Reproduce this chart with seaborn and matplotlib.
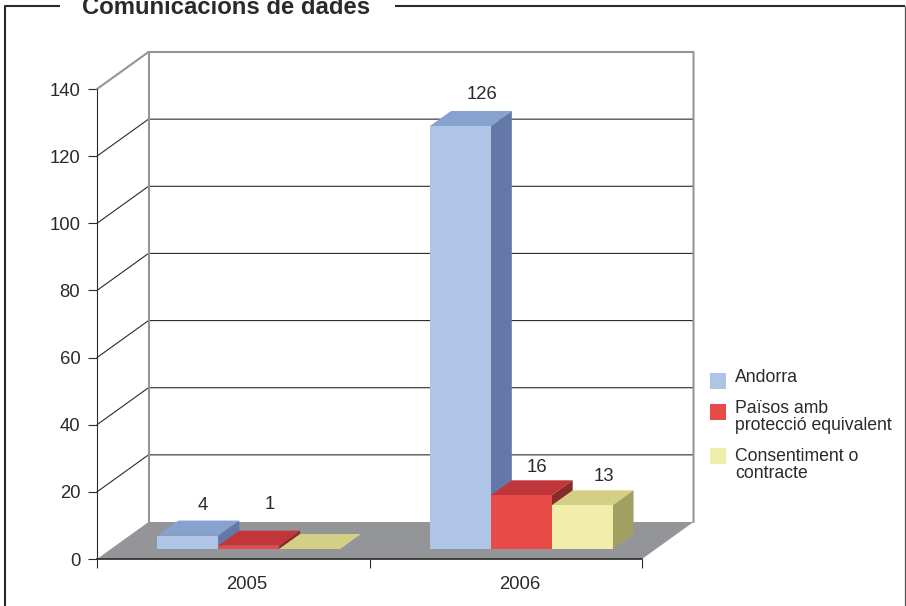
import matplotlib
matplotlib.use('Agg')
import matplotlib.pyplot as plt
from matplotlib.patches import Polygon
import pandas as pd
import seaborn as sns

# data
years = ['2005', '2006']
andorra = [4, 126]
paisos = [1, 16]
consentiment = [0, 13]
series_names = ['Andorra', 'Països amb\nprotecció equivalent', 'Consentiment o\ncontracte']
y_ticks = [0, 20, 40, 60, 80, 100, 120, 140]

front = ['#AFC5E6', '#E84B47', '#F1EEAB']
tops = ['#88A2CF', '#C0363B', '#D3D085']
sides = ['#6378A8', '#8A2A2B', '#A0A063']
grey = '#949598'
dark = '#2B2A29'

W, H = 906, 606
sns.set_style('white')
plt.rcParams['font.family'] = ['Liberation Sans', 'DejaVu Sans']

df = pd.DataFrame({'year': years * 3,
                   'serie': [n for n in series_names for _ in years],
                   'valor': andorra + paisos + consentiment})

fig = plt.figure(figsize=(W / 100, H / 100), dpi=100)

# frame and title on a pixel axes behind the chart
bg = fig.add_axes([0, 0, 1, 1], zorder=0)
bg.set_xlim(0, W)
bg.set_ylim(H, 0)
bg.axis('off')
bg.plot([60, 5, 5], [6, 6, H], color=dark, lw=1.5, solid_capstyle='butt')
bg.plot([395, 905], [6, 6], color=dark, lw=1.5, solid_capstyle='butt')
bg.plot([905, 905], [6, H], color='#555555', lw=0.9, solid_capstyle='butt')
bg.text(226.5, 14, 'Comunicacions de dades', fontsize=17.2, fontweight='bold',
        color=dark, ha='center', va='baseline')

# front plane of the 3d box: x 97-642, y 559-89 px
ax = fig.add_axes([97 / W, 1 - 559 / H, 545 / W, 470 / H], zorder=1)
ax.patch.set_alpha(0)
sns.barplot(data=df, x='year', y='valor', hue='serie', hue_order=series_names,
            palette=front, width=0.67, gap=0, saturation=1, legend=False, ax=ax,
            errorbar=None)
ax.set_xlim(-0.5, 1.5)
ax.set_ylim(0, 140)
ax.set_xlabel('')
ax.set_ylabel('')

# depth of the box and of one bar, in data units
px_x = 2 / 545
px_y = 140 / 470
box_dx, box_dy = 51.5 * px_x, 37 * px_y
bar_dx, bar_dy = 21 * px_x, 15 * px_y
shift_x, shift_y = 15.5 * px_x, 10 * px_y

# walls and floor
ax.add_patch(Polygon([(-0.5, 0), (1.5, 0), (1.5 + box_dx, box_dy), (-0.5 + box_dx, box_dy)],
                     closed=True, fc=grey, ec='none', zorder=1, clip_on=False))
for t in y_ticks[1:-1]:
    ax.plot([-0.5, -0.5 + box_dx, 1.5 + box_dx], [t, t + box_dy, t + box_dy],
            color=dark, lw=0.8, zorder=2, clip_on=False)
ax.plot([-0.5, -0.5 + box_dx, 1.5 + box_dx, 1.5 + box_dx],
        [140, 140 + box_dy, 140 + box_dy, box_dy],
        color=grey, lw=1.5, zorder=3, clip_on=False)
ax.plot([-0.5 + box_dx, -0.5 + box_dx], [box_dy, 140 + box_dy],
        color=grey, lw=1.5, zorder=3, clip_on=False)

# give each bar its side and top faces, far bars first
label_off = {(0, 0): (4, 15), (0, 1): (10, 26), (1, 0): (11, 17), (1, 1): (5, 13), (1, 2): (11, 14)}
vals = [andorra, paisos, consentiment]
for s, container in enumerate(ax.containers):
    for i, b in enumerate(container):
        b.set_x(b.get_x() + shift_x)
        b.set_y(b.get_y() + shift_y)
        b.set_linewidth(0)
        b.set_clip_on(False)
        x0, x1 = b.get_x(), b.get_x() + b.get_width()
        y0, y1 = b.get_y(), b.get_y() + b.get_height()
        z = 5 + 0.1 * s
        b.set_zorder(z + 0.02)
        ax.add_patch(Polygon([(x0, y1), (x1, y1), (x1 + bar_dx, y1 + bar_dy), (x0 + bar_dx, y1 + bar_dy)],
                             closed=True, fc=tops[s], ec='none', zorder=z, clip_on=False))
        ax.add_patch(Polygon([(x1, y0), (x1 + bar_dx, y0 + bar_dy), (x1 + bar_dx, y1 + bar_dy), (x1, y1)],
                             closed=True, fc=sides[s], ec='none', zorder=z, clip_on=False))
        if vals[s][i] > 0:
            ox, oy = label_off[(i, s)]
            ax.annotate(str(vals[s][i]), ((x0 + x1) / 2 + bar_dx / 2, y1 + bar_dy),
                        xytext=(ox, oy), textcoords='offset pixels', ha='center', va='center',
                        fontsize=13.3, color=dark, zorder=8, annotation_clip=False)

# axes
sns.despine(ax=ax, top=True, right=True)
ax.spines['left'].set_color(dark)
ax.spines['left'].set_linewidth(0.8)
ax.spines['bottom'].set_color(dark)
ax.spines['bottom'].set_linewidth(1.2)
ax.spines['left'].set_zorder(4)
ax.spines['bottom'].set_zorder(4)
ax.set_yticks(y_ticks)
ax.set_xticks([-0.5, 0.5, 1.5], labels=[])
ax.set_xticks([0.05, 1.05], labels=years, minor=True)
ax.tick_params(axis='both', which='major', direction='out', left=True, bottom=True,
               length=6.5, width=0.8, color=dark, labelcolor=dark, labelsize=13.3, pad=5.5)
ax.tick_params(axis='x', which='minor', length=0, labelsize=13.3, labelcolor=dark, pad=12.5)

# legend on the pixel axes, over the chart
lg = fig.add_axes([0, 0, 1, 1], zorder=2)
lg.set_xlim(0, W)
lg.set_ylim(H, 0)
lg.axis('off')
legend_y = [381, 412, 456]
text_y = [377, 417, 465]
for name, col, yy, ty in zip(series_names, front, legend_y, text_y):
    lg.scatter([718], [yy], marker='s', s=133, color=col, linewidths=0)
    lg.text(735, ty, name, fontsize=12.7, color=dark, va='center', ha='left', linespacing=0.95)

fig.savefig('out.png', dpi=100)
